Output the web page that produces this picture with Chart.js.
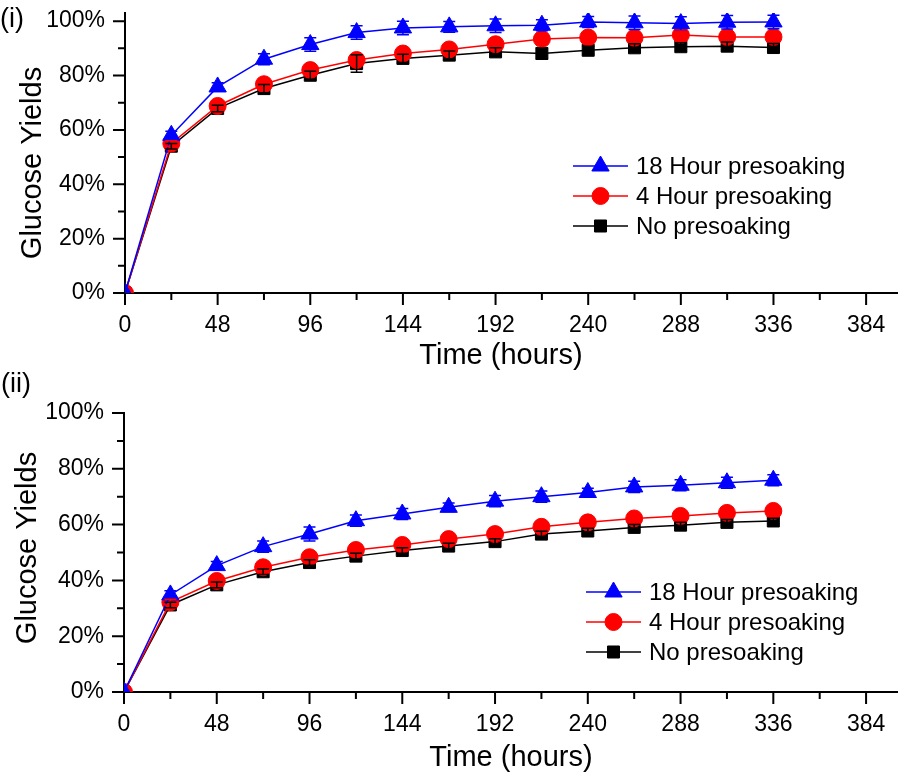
<!DOCTYPE html>
<html>
<head>
<meta charset="utf-8">
<script src="https://cdn.jsdelivr.net/npm/chart.js@4.4.1/dist/chart.umd.min.js"></script>
<style>
  body { margin: 0; background: #fff; }
  #wrap { position: relative; width: 898px; height: 778px; overflow: hidden; }
  canvas { display: block; position: absolute; left: 0; }
  .panel { position: absolute; font-family: 'Liberation Sans', Arial, sans-serif; font-size: 27px; line-height: 1; color: #000; }
</style>
</head>
<body>
<div id="wrap">
  <canvas id="chartTop" width="898" height="389" style="top:0"></canvas>
  <canvas id="chartBottom" width="898" height="389" style="top:389px"></canvas>
  <div class="panel" style="left:0px;top:5px">(i)</div>
  <div class="panel" style="left:1px;top:370px">(ii)</div>
</div>
<script>
// sampling times (hours)
var hours = [0, 24, 48, 72, 96, 120, 144, 168, 192, 216, 240, 264, 288, 312, 336];

// panel (i) glucose yields, %
var top18h = [0, 58, 75.8, 86, 91.4, 95.8, 97.5, 97.9, 98.3, 98.5, 99.7, 99.4, 99.1, 99.6, 99.7];
var top4h = [0, 55, 68.8, 76.8, 82, 85.7, 88.1, 89.6, 91.5, 93.4, 94, 93.9, 94.9, 94.2, 94.2];
var topNone = [0, 54, 67.9, 75.2, 80.1, 84.4, 86.3, 87.5, 88.7, 88.1, 89.3, 90.2, 90.6, 90.8, 90.3];
var top18hErr = [0, 1.5, 1.5, 2, 2.5, 2.5, 2.5, 2, 2.5, 2, 2, 2.5, 2.5, 2.5, 2.5];
var top4hErr = [0, 1, 1.5, 1.5, 1.5, 1.5, 1.5, 1.5, 1.5, 1.5, 1.5, 1.5, 1.5, 1.5, 1.5];
var topNoneErr = [0, 1, 1.2, 1.5, 1.5, 3.2, 1.5, 1.5, 1.5, 2, 1.5, 1.5, 1.5, 1.5, 1.5];

// panel (ii) glucose yields, %
var bot18h = [0, 34.8, 45.3, 52.1, 56.6, 61.4, 63.8, 66.2, 68.4, 70, 71.5, 73.5, 74.1, 75, 75.9];
var bot4h = [0, 32.2, 39.8, 44.7, 48.3, 50.9, 52.7, 54.8, 56.6, 59.2, 60.8, 62.2, 63.1, 64.2, 64.9];
var botNone = [0, 31.2, 38.4, 43.1, 46.4, 48.7, 50.7, 52.3, 53.9, 56.6, 57.7, 59, 59.8, 60.8, 61.3];
var bot18hErr = [0, 1.5, 1.5, 2, 2.5, 2, 2, 1.5, 2, 2, 1.5, 2, 2, 2, 2];
var bot4hErr = [0, 1, 1, 1, 1, 1, 1, 1, 1, 1, 1, 1, 1, 1, 1];
var botNoneErr = [0, 1, 1, 1, 1, 1, 1, 1, 1, 1, 1, 1, 1, 1, 1];

var seriesNames = ['18 Hour presoaking', '4 Hour presoaking', 'No presoaking'];

// axis ticks
var xMajorTicks = [0, 48, 96, 144, 192, 240, 288, 336, 384];
var xMinorTicks = [24, 72, 120, 168, 216, 264, 312, 360];
var yMajorTicks = [0, 20, 40, 60, 80, 100];
var yMinorTicks = [10, 30, 50, 70, 90];

var FONT = "'Liberation Sans', Arial, sans-serif";

function makeDatasets(v18, v4, vNone, e18, e4, eNone) {
    return [
        { label: seriesNames[0], data: v18, errors: e18, borderColor: '#0000ff', backgroundColor: '#0000ff',
          pointStyle: 'triangle', pointRadius: 10, pointBorderWidth: 1, borderWidth: 1.5, tension: 0 },
        { label: seriesNames[1], data: v4, errors: e4, borderColor: '#ff0000', backgroundColor: '#ff0000',
          pointStyle: 'circle', pointRadius: 8.5, pointBorderWidth: 1, borderWidth: 1.5, tension: 0 },
        { label: seriesNames[2], data: vNone, errors: eNone, borderColor: '#000000', backgroundColor: '#000000',
          pointStyle: 'rect', pointRadius: 8.5, pointBorderWidth: 1, borderWidth: 1.5, tension: 0 },
    ];
}

// error bars, drawn on top of the markers like the original
var errorBars = {
    id: 'errorBars',
    afterDatasetsDraw: function (chart) {
        var ctx = chart.ctx, area = chart.chartArea, yScale = chart.scales.y;
        ctx.save();
        ctx.beginPath();
        ctx.rect(area.left, area.top - 2, area.right - area.left, area.bottom - area.top + 4);
        ctx.clip();
        chart.data.datasets.forEach(function (ds, i) {
            var meta = chart.getDatasetMeta(i);
            ctx.strokeStyle = ds.borderColor;
            ctx.lineWidth = 1.5;
            ctx.beginPath();
            meta.data.forEach(function (pt, j) {
                var err = ds.errors[j];
                if (!err) return;
                var hi = yScale.getPixelForValue(ds.data[j] + err);
                var lo = yScale.getPixelForValue(ds.data[j] - err);
                ctx.moveTo(pt.x, hi); ctx.lineTo(pt.x, lo);
                ctx.moveTo(pt.x - 6, hi); ctx.lineTo(pt.x + 6, hi);
                ctx.moveTo(pt.x - 6, lo); ctx.lineTo(pt.x + 6, lo);
            });
            ctx.stroke();
        });
        ctx.restore();
    }
};

// outward tick marks, titles and legend box in Origin style
var decorations = {
    id: 'decorations',
    afterDraw: function (chart, args, opts) {
        var ctx = chart.ctx, area = chart.chartArea, xs = chart.scales.x, ys = chart.scales.y;
        ctx.save();
        ctx.strokeStyle = '#000';
        ctx.lineWidth = 2;
        ctx.beginPath();
        yMajorTicks.forEach(function (v) { var p = ys.getPixelForValue(v); ctx.moveTo(area.left - 12, p); ctx.lineTo(area.left, p); });
        yMinorTicks.forEach(function (v) { var p = ys.getPixelForValue(v); ctx.moveTo(area.left - 7, p); ctx.lineTo(area.left, p); });
        xMajorTicks.forEach(function (v) { var p = xs.getPixelForValue(v); ctx.moveTo(p, area.bottom); ctx.lineTo(p, area.bottom + 12); });
        xMinorTicks.forEach(function (v) { var p = xs.getPixelForValue(v); ctx.moveTo(p, area.bottom); ctx.lineTo(p, area.bottom + 7); });
        ctx.stroke();

        ctx.fillStyle = '#000';
        ctx.font = '29px ' + FONT;
        ctx.textAlign = 'center';
        ctx.textBaseline = 'alphabetic';
        ctx.fillText('Time (hours)', opts.xTitle[0], opts.xTitle[1]);
        ctx.save();
        ctx.translate(opts.yTitle[0], opts.yTitle[1]);
        ctx.rotate(-Math.PI / 2);
        ctx.fillText('Glucose Yields', 0, 0);
        ctx.restore();

        // legend
        ctx.font = '24px ' + FONT;
        ctx.textAlign = 'left';
        ctx.textBaseline = 'middle';
        chart.data.datasets.forEach(function (ds, i) {
            var x0 = opts.legend[0], y0 = opts.legend[1] + i * 30;
            ctx.strokeStyle = ds.borderColor;
            ctx.lineWidth = 1.5;
            ctx.beginPath();
            ctx.moveTo(x0, y0); ctx.lineTo(x0 + 55, y0);
            ctx.stroke();
            ctx.fillStyle = ds.backgroundColor;
            ctx.lineWidth = 1;
            Chart.helpers.drawPoint(ctx, { pointStyle: ds.pointStyle, radius: ds.pointRadius, rotation: 0, borderWidth: 1 }, x0 + 27.5, y0);
            ctx.fillStyle = '#000';
            ctx.fillText(ds.label, x0 + 63, y0 + 1);
        });
        ctx.restore();
    }
};

function makeChart(id, datasets, cfg) {
    return new Chart(document.getElementById(id), {
        type: 'line',
        data: { labels: hours, datasets: datasets },
        options: {
            responsive: false,
            animation: false,
            layout: { autoPadding: false, padding: { top: cfg.top, left: 0, right: 1, bottom: 0 } },
            plugins: {
                legend: { display: false },
                tooltip: { enabled: false },
                decorations: { xTitle: cfg.xTitle, yTitle: cfg.yTitle, legend: cfg.legend },
            },
            scales: {
                x: {
                    type: 'linear',
                    min: 0,
                    max: 400,
                    afterBuildTicks: function (s) { s.ticks = xMajorTicks.map(function (v) { return { value: v }; }); },
                    afterFit: function (s) { s.height = cfg.xHeight; s.paddingLeft = 0; s.paddingRight = 0; },
                    grid: { display: false, drawTicks: false },
                    border: { display: true, color: '#000', width: 2 },
                    ticks: { padding: 19, color: '#000', font: { family: FONT, size: 23 }, maxRotation: 0, autoSkip: false },
                },
                y: {
                    min: 0,
                    max: cfg.yMax,
                    afterBuildTicks: function (s) { s.ticks = yMajorTicks.map(function (v) { return { value: v }; }); },
                    afterFit: function (s) { s.width = cfg.yWidth; s.paddingTop = 0; s.paddingBottom = 0; },
                    grid: { display: false, drawTicks: false },
                    border: { display: true, color: '#000', width: 2 },
                    ticks: {
                        padding: 20, color: '#000', font: { family: FONT, size: 23 }, autoSkip: false,
                        callback: function (v) { return v + '%'; },
                    },
                },
            },
        },
        plugins: [errorBars, decorations],
    });
}

makeChart('chartTop', makeDatasets(top18h, top4h, topNone, top18hErr, top4hErr, topNoneErr), {
    top: 13, yMax: 103, xHeight: 96, yWidth: 125,
    xTitle: [501, 364], yTitle: [41, 163], legend: [573, 166],
});

makeChart('chartBottom', makeDatasets(bot18h, bot4h, botNone, bot18hErr, bot4hErr, botNoneErr), {
    top: 24, yMax: 100, xHeight: 86, yWidth: 124,
    xTitle: [511, 377], yTitle: [36, 159], legend: [586, 203],
});
</script>
</body>
</html>
